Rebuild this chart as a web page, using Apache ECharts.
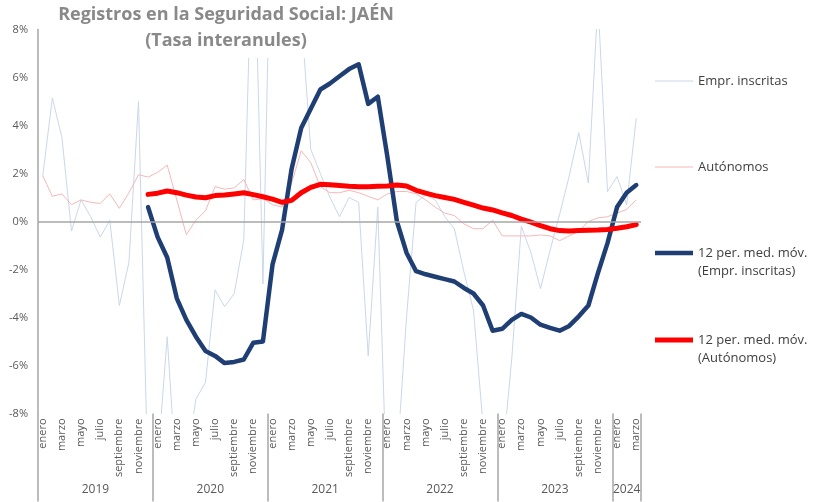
<!DOCTYPE html>
<html><head><meta charset="utf-8">
<script src="https://cdn.jsdelivr.net/npm/echarts@6/dist/echarts.min.js"></script>
<style>html,body{margin:0;padding:0;background:#fff}#c{width:814px;height:502px}</style>
</head><body><div id="c"></div>
<script>
// ---- data ----
const monthNames = ['enero','febrero','marzo','abril','mayo','junio','julio','agosto','septiembre','octubre','noviembre','diciembre'];
const years = ['2019','2020','2021','2022','2023','2024'];
const monthsPerYear = [12, 12, 12, 12, 12, 3];
const yTicks = [-8, -6, -4, -2, 0, 2, 4, 6, 8];

const seriesNames = [
  'Empr. inscritas',
  'Autónomos',
  '12 per. med. móv.\n(Empr. inscritas)',
  '12 per. med. móv.\n(Autónomos)'
];

const emprInscritas = [
  1.9, 5.15, 3.5, -0.4, 0.9, 0.2, -0.65, 0.05, -3.5, -1.7, 5.0, -11,
  -10, -4.8, -11, -10, -7.4, -6.7, -2.85, -3.55, -3.0, -0.77, 14, -2.6,
  16, 22, 18, 8.6, 3.0, 2.0, 1.0, 0.2, 1.0, 0.8, -5.6, 0.6,
  -12, -10, -4.0, 0.8, 1.1, 0.9, 0.2, -0.3, -2.1, -3.7, -8.5, -14,
  -10, -5.7, -0.2, -1.3, -2.8, -1.2, 0.3, 1.9, 3.7, 1.6, 9.2, 1.25,
  1.87, 0.7, 4.3
];
const autonomos = [
  1.9, 1.05, 1.15, 0.7, 0.9, 0.8, 0.75, 1.15, 0.55, 1.2, 1.95, 1.85,
  2.05, 2.35, 0.9, -0.55, 0.05, 0.45, 1.45, 1.35, 1.4, 1.75, 0.9, 0.95,
  0.7, 0.6, 1.6, 2.95, 2.45, 1.45, 1.2, 1.2, 1.3, 1.2, 1.05, 0.9,
  1.15, 1.25, 1.25, 1.15, 0.9, 0.6, 0.35, 0.25, -0.1, -0.3, -0.3, 0.05,
  -0.6, -0.6, -0.6, -0.6, -0.56, -0.6, -0.8, -0.6, -0.4, 0.0, 0.15, 0.2,
  0.35, 0.5, 0.9
];
const mediaEmpr = [
  null, null, null, null, null, null, null, null, null, null, null, 0.6,
  -0.65, -1.5, -3.2, -4.1, -4.8, -5.4, -5.6, -5.9, -5.85, -5.75, -5.05, -5.0,
  -1.8, -0.35, 2.2, 3.9, 4.7, 5.5, 5.75, 6.05, 6.35, 6.55, 4.9, 5.2,
  2.7, 0.0, -1.3, -2.07, -2.2, -2.3, -2.4, -2.5, -2.77, -3.0, -3.5, -4.55,
  -4.47, -4.1, -3.85, -4.0, -4.3, -4.43, -4.55, -4.35, -3.95, -3.5, -2.15, -0.9,
  0.6, 1.2, 1.52
];
const mediaAutonomos = [
  null, null, null, null, null, null, null, null, null, null, null, 1.13,
  1.18, 1.27, 1.2, 1.1, 1.02, 0.99, 1.08, 1.1, 1.15, 1.2, 1.12, 1.03,
  0.93, 0.8, 0.88, 1.2, 1.42, 1.55, 1.53, 1.5, 1.47, 1.45, 1.45, 1.47,
  1.48, 1.52, 1.48, 1.3, 1.18, 1.08, 1.0, 0.92, 0.8, 0.68, 0.56, 0.48,
  0.36, 0.25, 0.1, -0.03, -0.17, -0.3, -0.38, -0.4, -0.38, -0.36, -0.35, -0.33,
  -0.28, -0.22, -0.13
];

// ---- derived ----
const categories = [];
const yearCenters = {};
const yearStarts = new Set();
let start = 0;
years.forEach((y, k) => {
  yearStarts.add(start);
  for (let m = 0; m < monthsPerYear[k]; m++) categories.push(monthNames[m]);
  yearCenters[start + monthsPerYear[k] / 2] = y;
  start += monthsPerYear[k];
});

const colThinBlue = '#cad7ec';
const colThinRed = '#f5b8b8';
const colBlue = '#1f3f74';
const colRed = '#ff0000';
const gray = '#595959';
const lineGray = '#a6a6a6';
const font = '"Open Sans", Lato, sans-serif';

const chart = echarts.init(document.getElementById('c'));

function legendAt(name, top, lineW, color, twoLine) {
  const l = {
    data: [{ name: name, icon: 'rect', itemStyle: { color: color } }],
    left: 655, top: top, orient: 'vertical', padding: 0,
    itemWidth: 38, itemHeight: lineW, itemGap: 0,
    textStyle: { color: '#404040', fontSize: 13, fontFamily: font, lineHeight: 18 }
  };
  if (twoLine) l.formatter = (n) => ' \n' + n;
  return l;
}

chart.setOption({
  animation: false,
  backgroundColor: '#fff',
  title: {
    text: 'Registros en la Seguridad Social: JAÉN\n(Tasa interanules)',
    left: 218, top: 0, textAlign: 'center',
    padding: [2, 8, 4, 8],
    backgroundColor: '#fff',
    textStyle: { color: '#898989', fontSize: 18, fontWeight: 'bold', fontFamily: font, lineHeight: 26 }
  },
  legend: [
    legendAt(seriesNames[0], 72, 1, colThinBlue, false),
    legendAt(seriesNames[1], 158, 1, colThinRed, false),
    legendAt(seriesNames[2], 226, 4.5, colBlue, true),
    legendAt(seriesNames[3], 313, 5, colRed, true)
  ],
  grid: { left: 38, right: 173, top: 29.5, bottom: 88.5, containLabel: false },
  xAxis: [{
    type: 'category', data: categories, boundaryGap: true, position: 'bottom',
    axisLine: { show: false, onZero: false },
    axisTick: { show: true, length: 88, interval: (i) => yearStarts.has(i),
      lineStyle: { color: lineGray, width: 1.5 } },
    axisLabel: { interval: 1, rotate: 90, fontSize: 11, color: gray, fontFamily: font, margin: 5 },
    splitLine: { show: false }
  }, {
    type: 'value', min: 0, max: categories.length, interval: 0.5, position: 'bottom', offset: 68,
    axisLine: { show: false, onZero: false }, axisTick: { show: false }, splitLine: { show: false },
    axisLabel: { fontSize: 12, color: gray, fontFamily: font, margin: 2, showMinLabel: true, showMaxLabel: true,
      formatter: (v) => yearCenters[v] || '' }
  }],
  yAxis: {
    type: 'value', min: yTicks[0], max: yTicks[yTicks.length - 1], interval: 2,
    axisLine: { show: true, lineStyle: { color: lineGray, width: 1.5 } },
    axisTick: { show: false },
    splitLine: { show: false },
    axisLabel: { formatter: '{value}%', fontSize: 11, color: gray, fontFamily: font, margin: 10 }
  },
  series: [
    { name: seriesNames[0], type: 'line', data: emprInscritas, symbol: 'none', showSymbol: false,
      lineStyle: { color: colThinBlue, width: 1 }, itemStyle: { color: colThinBlue },
      markLine: { silent: true, symbol: 'none', label: { show: false },
        lineStyle: { color: lineGray, width: 1.5, type: 'solid' }, data: [{ yAxis: 0 }] } },
    { name: seriesNames[1], type: 'line', data: autonomos, symbol: 'none', showSymbol: false,
      lineStyle: { color: colThinRed, width: 1 }, itemStyle: { color: colThinRed } },
    { name: seriesNames[2], type: 'line', data: mediaEmpr, symbol: 'none', showSymbol: false,
      lineStyle: { color: colBlue, width: 4.5, join: 'round', cap: 'round' }, itemStyle: { color: colBlue } },
    { name: seriesNames[3], type: 'line', data: mediaAutonomos, symbol: 'none', showSymbol: false,
      lineStyle: { color: colRed, width: 5, join: 'round', cap: 'round' }, itemStyle: { color: colRed } }
  ]
});
</script>
</body></html>
